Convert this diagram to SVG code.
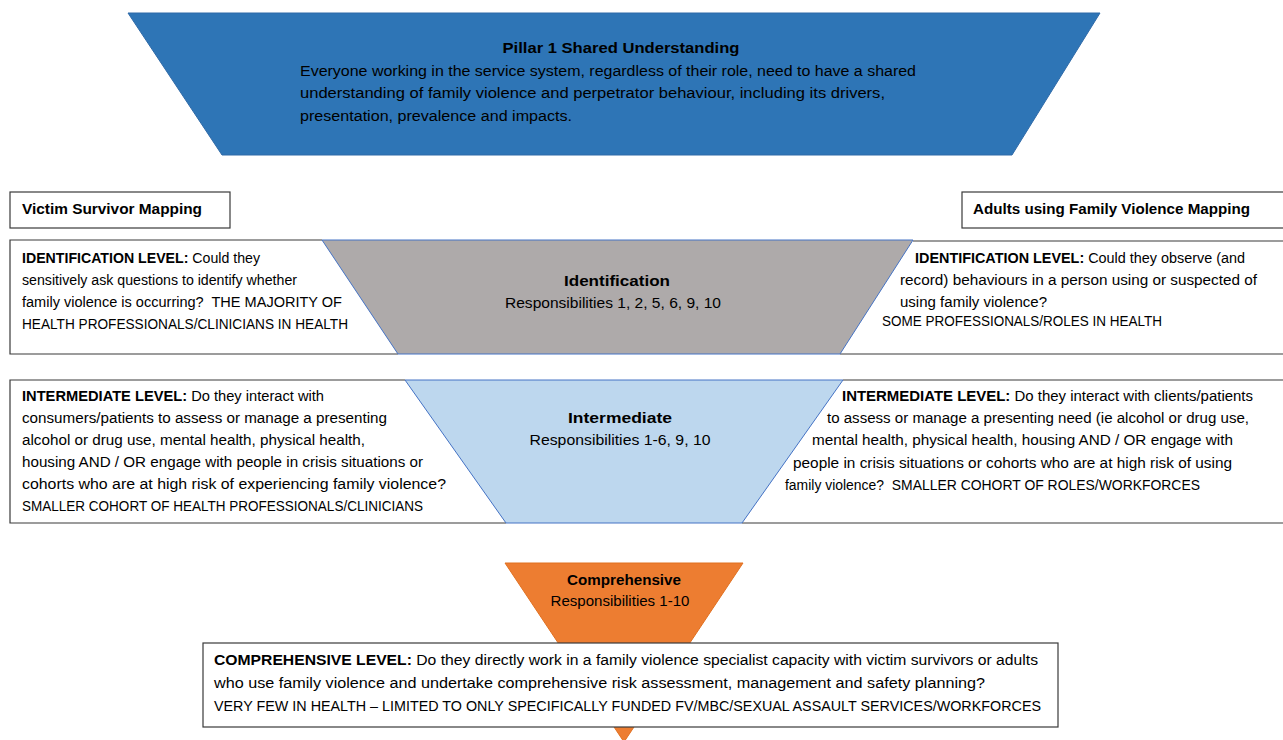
<svg xmlns="http://www.w3.org/2000/svg" width="1283" height="740" viewBox="0 0 1283 740">
<style>
text{font-family:"Liberation Sans",Arial,sans-serif;font-size:14px;fill:#000}
.b{font-weight:bold}
.c{text-anchor:middle}
.box{fill:#fff;stroke:#3a3a3a;stroke-width:1.2}
.edge{fill:none;stroke:#3a3a3a;stroke-width:1.2}
</style>
<rect width="1283" height="740" fill="#fff"/>
<g id="pillar1">
<polygon points="128,13 1100,13 1012,155 222,155" fill="#2E75B6" stroke="#2F6AA8" stroke-width="1"/>
<text class="b c" x="621" y="53" textLength="237" lengthAdjust="spacingAndGlyphs">Pillar 1 Shared Understanding</text>
<text x="300" y="76" textLength="616" lengthAdjust="spacingAndGlyphs">Everyone working in the service system, regardless of their role, need to have a shared</text>
<text x="300" y="98" textLength="585" lengthAdjust="spacingAndGlyphs">understanding of family violence and perpetrator behaviour, including its drivers,</text>
<text x="300" y="121" textLength="272" lengthAdjust="spacingAndGlyphs">presentation, prevalence and impacts.</text>
</g>
<g id="victim-mapping">
<rect class="box" x="10" y="192" width="220" height="36"/>
<text class="b" x="22" y="214" textLength="180" lengthAdjust="spacingAndGlyphs">Victim Survivor Mapping</text>
</g>
<g id="adults-mapping">
<rect class="box" x="962" y="192" width="330" height="36"/>
<text class="b" x="973" y="214" textLength="277" lengthAdjust="spacingAndGlyphs">Adults using Family Violence Mapping</text>
</g>
<g id="id-left">
<path class="edge" d="M322,240 H10 V354 H398"/>
<text x="22" y="263" textLength="238" lengthAdjust="spacingAndGlyphs"><tspan class="b">IDENTIFICATION LEVEL:</tspan> Could they</text>
<text x="22" y="285" textLength="275" lengthAdjust="spacingAndGlyphs">sensitively ask questions to identify whether</text>
<text x="22" y="307" textLength="320" lengthAdjust="spacingAndGlyphs" xml:space="preserve">family violence is occurring?  THE MAJORITY OF</text>
<text x="22" y="329" textLength="326" lengthAdjust="spacingAndGlyphs">HEALTH PROFESSIONALS/CLINICIANS IN HEALTH</text>
</g>
<g id="id-right">
<path class="edge" d="M913,241 H1290 M840,354 H1290"/>
<text x="915" y="263" textLength="330" lengthAdjust="spacingAndGlyphs"><tspan class="b">IDENTIFICATION LEVEL:</tspan> Could they observe (and</text>
<text x="900" y="285" textLength="357" lengthAdjust="spacingAndGlyphs">record) behaviours in a person using or suspected of</text>
<text x="900" y="307" textLength="147" lengthAdjust="spacingAndGlyphs">using family violence?</text>
<text x="882" y="326" textLength="280" lengthAdjust="spacingAndGlyphs">SOME PROFESSIONALS/ROLES IN HEALTH</text>
</g>
<g id="identification">
<polygon points="322,240 913,240 840,354 398,354" fill="#AEAAAA" stroke="#4472C4" stroke-width="1"/>
<text class="b c" x="617" y="286" textLength="106" lengthAdjust="spacingAndGlyphs">Identification</text>
<text class="c" x="613" y="308" textLength="216" lengthAdjust="spacingAndGlyphs">Responsibilities 1, 2, 5, 6, 9, 10</text>
</g>
<g id="int-left">
<path class="edge" d="M405,380 H10 V523 H506"/>
<text x="22" y="401" textLength="302" lengthAdjust="spacingAndGlyphs"><tspan class="b">INTERMEDIATE LEVEL:</tspan> Do they interact with</text>
<text x="22" y="423" textLength="365" lengthAdjust="spacingAndGlyphs">consumers/patients to assess or manage a presenting</text>
<text x="22" y="445" textLength="343" lengthAdjust="spacingAndGlyphs">alcohol or drug use, mental health, physical health,</text>
<text x="22" y="467" textLength="401" lengthAdjust="spacingAndGlyphs">housing AND / OR engage with people in crisis situations or</text>
<text x="22" y="489" textLength="424" lengthAdjust="spacingAndGlyphs">cohorts who are at high risk of experiencing family violence?</text>
<text x="22" y="511" textLength="401" lengthAdjust="spacingAndGlyphs">SMALLER COHORT OF HEALTH PROFESSIONALS/CLINICIANS</text>
</g>
<g id="int-right">
<path class="edge" d="M843,380 H1290 M742,523 H1290"/>
<text x="842" y="401" textLength="411" lengthAdjust="spacingAndGlyphs"><tspan class="b">INTERMEDIATE LEVEL:</tspan> Do they interact with clients/patients</text>
<text x="827" y="423" textLength="422" lengthAdjust="spacingAndGlyphs">to assess or manage a presenting need (ie alcohol or drug use,</text>
<text x="812" y="445" textLength="421" lengthAdjust="spacingAndGlyphs">mental health, physical health, housing AND / OR engage with</text>
<text x="793" y="468" textLength="439" lengthAdjust="spacingAndGlyphs">people in crisis situations or cohorts who are at high risk of using</text>
<text x="785" y="490" textLength="415" lengthAdjust="spacingAndGlyphs" xml:space="preserve">family violence?  SMALLER COHORT OF ROLES/WORKFORCES</text>
</g>
<g id="intermediate">
<polygon points="405,380 843,380 742,523 506,523" fill="#BDD7EE" stroke="#4472C4" stroke-width="1"/>
<text class="b c" x="620" y="423" textLength="104" lengthAdjust="spacingAndGlyphs">Intermediate</text>
<text class="c" x="620" y="445" textLength="181" lengthAdjust="spacingAndGlyphs">Responsibilities 1-6, 9, 10</text>
</g>
<g id="comprehensive">
<polygon points="505,563 743,563 624,742" fill="#ED7D31" stroke="#E07020" stroke-width="1"/>
<text class="b c" x="624" y="585" textLength="114" lengthAdjust="spacingAndGlyphs">Comprehensive</text>
<text class="c" x="620" y="606" textLength="139" lengthAdjust="spacingAndGlyphs">Responsibilities 1-10</text>
</g>
<g id="comp-level">
<rect class="box" x="203" y="643" width="855" height="84"/>
<text x="214" y="665" textLength="824" lengthAdjust="spacingAndGlyphs"><tspan class="b">COMPREHENSIVE LEVEL:</tspan> Do they directly work in a family violence specialist capacity with victim survivors or adults</text>
<text x="214" y="688" textLength="771" lengthAdjust="spacingAndGlyphs">who use family violence and undertake comprehensive risk assessment, management and safety planning?</text>
<text x="214" y="711" textLength="827" lengthAdjust="spacingAndGlyphs">VERY FEW IN HEALTH – LIMITED TO ONLY SPECIFICALLY FUNDED FV/MBC/SEXUAL ASSAULT SERVICES/WORKFORCES</text>
</g>
<g id="connectors"/>
</svg>
